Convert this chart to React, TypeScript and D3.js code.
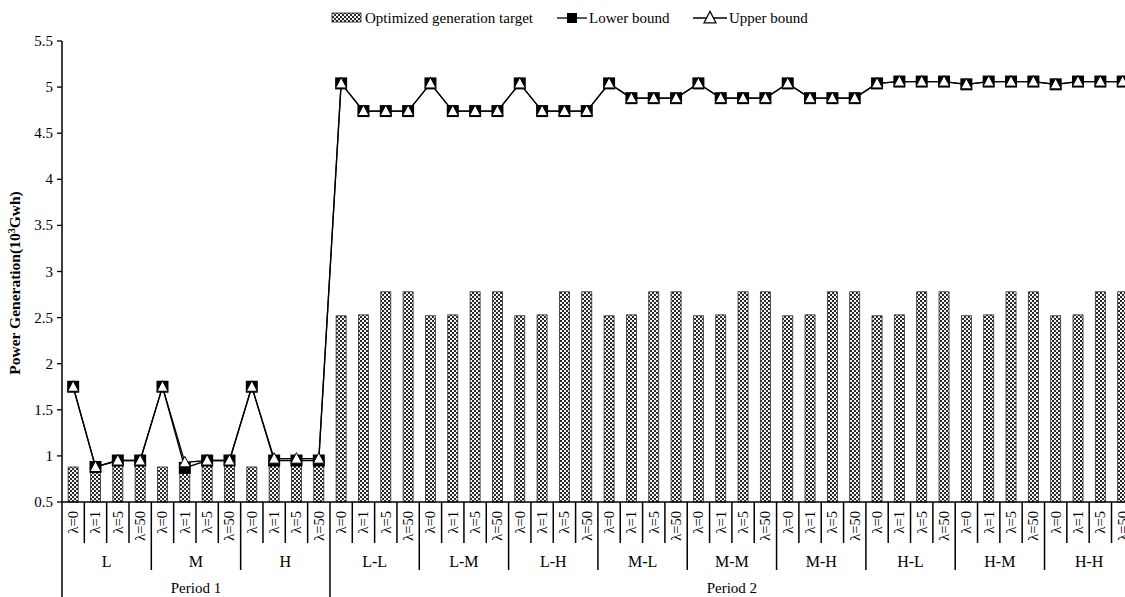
import React from "react";
import * as d3 from "d3";

const lambdas = ["λ=0", "λ=1", "λ=5", "λ=50"];
const period1Groups = ["L", "M", "H"];
const period2Groups = ["L-L", "L-M", "L-H", "M-L", "M-M", "M-H", "H-L", "H-M", "H-H"];
const periods = ["Period 1", "Period 2"];

// optimized generation target (bars), 48 cases
const target = [
  0.88, 0.88, 0.95, 0.95, 0.88, 0.88, 0.95, 0.95, 0.88, 0.95, 0.95, 0.95,
  2.52, 2.53, 2.78, 2.78, 2.52, 2.53, 2.78, 2.78, 2.52, 2.53, 2.78, 2.78,
  2.52, 2.53, 2.78, 2.78, 2.52, 2.53, 2.78, 2.78, 2.52, 2.53, 2.78, 2.78,
  2.52, 2.53, 2.78, 2.78, 2.52, 2.53, 2.78, 2.78, 2.52, 2.53, 2.78, 2.78,
];
const lowerBound = [
  1.75, 0.88, 0.95, 0.95, 1.75, 0.87, 0.95, 0.95, 1.75, 0.95, 0.95, 0.95,
  5.04, 4.74, 4.74, 4.74, 5.04, 4.74, 4.74, 4.74, 5.04, 4.74, 4.74, 4.74,
  5.04, 4.88, 4.88, 4.88, 5.04, 4.88, 4.88, 4.88, 5.04, 4.88, 4.88, 4.88,
  5.04, 5.06, 5.06, 5.06, 5.03, 5.06, 5.06, 5.06, 5.03, 5.06, 5.06, 5.06,
];
const upperBound = [
  1.75, 0.88, 0.95, 0.95, 1.75, 0.93, 0.95, 0.95, 1.75, 0.97, 0.97, 0.97,
  5.04, 4.74, 4.74, 4.74, 5.04, 4.74, 4.74, 4.74, 5.04, 4.74, 4.74, 4.74,
  5.04, 4.88, 4.88, 4.88, 5.04, 4.88, 4.88, 4.88, 5.04, 4.88, 4.88, 4.88,
  5.04, 5.06, 5.06, 5.06, 5.03, 5.06, 5.06, 5.06, 5.03, 5.06, 5.06, 5.06,
];
const yTicks = [0.5, 1, 1.5, 2, 2.5, 3, 3.5, 4, 4.5, 5, 5.5];

const W = 1125;
const H = 597;
const left = 62;
const step = 22.33;
const font = "'Liberation Serif', 'Times New Roman', serif";

const groups = [
  ...period1Groups.map((g) => ({ name: g, period: 0 })),
  ...period2Groups.map((g) => ({ name: g, period: 1 })),
];
const cases = groups.flatMap((g, gi) => lambdas.map((l, li) => ({ id: `${gi}-${li}`, lambda: l, gi, li })));

export default function App() {
  const x = d3.scaleBand<string>().domain(cases.map((c) => c.id)).range([left, left + cases.length * step]).paddingInner(0.55).paddingOuter(0.275);
  const y = d3.scaleLinear().domain([0.5, 5.5]).range([502, 41]);
  const cx = (i: number) => (x(cases[i].id) as number) + x.bandwidth() / 2;
  const edge = (i: number) => left + i * step;

  const line = d3.line<number>().x((_, i) => cx(i)).y((d) => y(d));
  const tri = (px: number, py: number, s: number) =>
    `M${px},${py - s * 0.6}L${px + s * 0.55},${py + s * 0.45}L${px - s * 0.55},${py + s * 0.45}Z`;

  const axisY = 502;
  const p1End = period1Groups.length * 4;

  return (
    <svg width={W} height={H} style={{ position: "absolute", left: 0, top: 0, background: "#fff" }} fontFamily={font}>
      <defs>
        <pattern id="chk" width="4" height="4" patternUnits="userSpaceOnUse">
          <rect width="4" height="4" fill="#f4f4f4" />
          <rect width="2" height="2" fill="#2a2a2a" />
          <rect x="2" y="2" width="2" height="2" fill="#2a2a2a" />
        </pattern>
      </defs>

      {/* legend */}
      <g fontSize={15}>
        <rect x={332} y={13} width={29} height={9} fill="url(#chk)" stroke="#222" strokeWidth={0.8} />
        <text x={365} y={23}>Optimized generation target</text>
        <line x1={557} x2={587} y1={18} y2={18} stroke="#000" strokeWidth={1.3} />
        <rect x={567} y={13} width={10} height={10} fill="#000" />
        <text x={589} y={23}>Lower bound</text>
        <line x1={693} x2={727} y1={18} y2={18} stroke="#000" strokeWidth={1.3} />
        <path d={tri(710, 18, 11)} fill="#fff" stroke="#000" strokeWidth={1.2} />
        <text x={729} y={23}>Upper bound</text>
      </g>

      {/* bars */}
      {target.map((v, i) => (
        <rect key={i} x={x(cases[i].id)} y={y(v)} width={x.bandwidth()} height={axisY - y(v)} fill="url(#chk)" stroke="#333" strokeWidth={0.8} />
      ))}

      {/* lines */}
      <path d={line(lowerBound) || ""} fill="none" stroke="#000" strokeWidth={1.3} />
      <path d={line(upperBound) || ""} fill="none" stroke="#000" strokeWidth={1.3} />
      {lowerBound.map((v, i) => (
        <rect key={i} x={cx(i) - 6} y={y(v) - 6} width={12} height={12} fill="#000" />
      ))}
      {upperBound.map((v, i) => (
        <path key={i} d={tri(cx(i), y(v), 10)} fill="#fff" stroke="#000" strokeWidth={1} />
      ))}

      {/* y axis */}
      <line x1={left} x2={left} y1={41} y2={H} stroke="#000" strokeWidth={1.5} />
      {yTicks.map((t) => (
        <g key={t}>
          <line x1={left - 5} x2={left} y1={y(t)} y2={y(t)} stroke="#000" strokeWidth={1.3} />
          <text x={left - 9} y={y(t) + 5} textAnchor="end" fontSize={15}>{t}</text>
        </g>
      ))}
      <text transform={`translate(20,283) rotate(-90)`} textAnchor="middle" fontSize={15.5} fontWeight="bold">
        Power Generation(10<tspan dy={-5} fontSize={10}>3</tspan><tspan dy={5}>Gwh)</tspan>
      </text>

      {/* x axis */}
      <line x1={left} x2={W} y1={axisY} y2={axisY} stroke="#000" strokeWidth={1.5} />
      {cases.map((c, i) => {
        const e = edge(i);
        const bottom = i === 0 || i === p1End ? H : c.li === 0 ? 570 : 543;
        return (
          <g key={c.id}>
            {i > 0 && <line x1={e} x2={e} y1={axisY} y2={bottom} stroke="#000" strokeWidth={1.5} />}
            <text transform={`translate(${cx(i) + 5},511) rotate(-90)`} textAnchor="end" fontSize={14.5}>{c.lambda}</text>
          </g>
        );
      })}
      {groups.map((g, gi) => (
        <text key={g.name} x={edge(gi * 4) + 2 * step} y={567} textAnchor="middle" fontSize={16}>{g.name}</text>
      ))}
      {periods.map((p, pi) => {
        const a = pi === 0 ? 0 : p1End;
        const b = pi === 0 ? p1End : cases.length;
        return (
          <text key={p} x={(edge(a) + edge(b)) / 2} y={593} textAnchor="middle" fontSize={15}>{p}</text>
        );
      })}
    </svg>
  );
}
